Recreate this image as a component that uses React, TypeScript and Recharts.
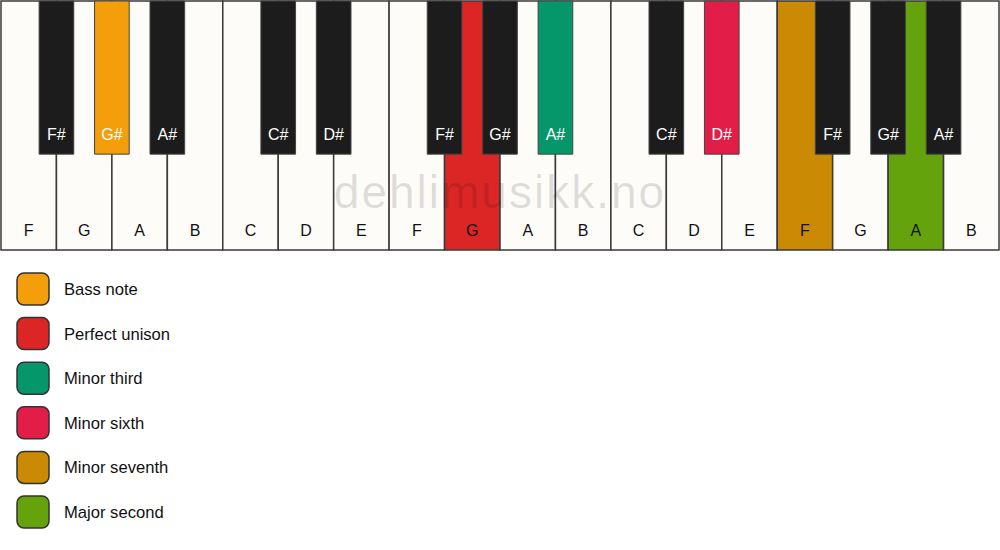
import React from "react";
import { ComposedChart, XAxis, YAxis, ReferenceArea, Line } from "recharts";

const WHITE_NOTES = ["F", "G", "A", "B", "C", "D", "E", "F", "G", "A", "B", "C", "D", "E", "F", "G", "A", "B"];
const BLACK_NOTES = ["F#", "G#", "A#", "C#", "D#", "F#", "G#", "A#", "C#", "D#", "F#", "G#", "A#"];
// boundary (in white-key units) each black key sits on
const BLACK_POSITIONS = [1, 2, 3, 5, 6, 8, 9, 10, 12, 13, 15, 16, 17];

const INTERVALS = ["Bass note", "Perfect unison", "Minor third", "Minor sixth", "Minor seventh", "Major second"];
const INTERVAL_COLORS = ["#F59E0B", "#DC2626", "#059669", "#E11D48", "#CA8A04", "#65A30D"];

// key index -> interval index
const WHITE_HIGHLIGHTS: Record<number, number> = { 8: 1, 14: 4, 16: 5 };
const BLACK_HIGHLIGHTS: Record<number, number> = { 1: 0, 7: 2, 9: 3 };

const BLACK_HALF_WIDTH = 0.3125;
const BLACK_BOTTOM = 0.385;

const FONT = "'Liberation Sans', Arial, sans-serif";
const WHITE_FILL = "#FDFCF9";
const BLACK_FILL = "#1C1C1C";

const data = WHITE_NOTES.map((note, i) => ({ x: i + 0.5, top: 1, note }));

function Watermark(props: any) {
  const { viewBox } = props;
  return (
    <text
      x={viewBox.x + viewBox.width / 2}
      y={208}
      textAnchor="middle"
      fontFamily={FONT}
      fontSize={46}
      letterSpacing={2}
      fill="#000"
      fillOpacity={0.12}
    >
      dehlimusikk.no
    </text>
  );
}

export default function App() {
  return (
    <div style={{ position: "absolute", left: 0, top: 0, width: 1000, height: 550, background: "#fff", fontFamily: FONT }}>
      <ComposedChart width={1000} height={251} data={data} margin={{ top: 1, right: 1, bottom: 1, left: 1 }}>
        <XAxis type="number" dataKey="x" domain={[0, 18]} hide allowDataOverflow />
        <YAxis type="number" domain={[0, 1]} hide allowDataOverflow />
        <Line dataKey="top" stroke="none" dot={false} isAnimationActive={false} />
        {WHITE_NOTES.map((note, i) => {
          const hl = WHITE_HIGHLIGHTS[i];
          return (
            <ReferenceArea
              key={`w${i}`}
              x1={i}
              x2={i + 1}
              y1={0}
              y2={1}
              fill={hl !== undefined ? INTERVAL_COLORS[hl] : WHITE_FILL}
              fillOpacity={1}
              stroke="#3a3a3a"
              strokeWidth={1.5}
              label={{
                value: note,
                position: "insideBottom",
                offset: 14,
                fill: "#111",
                fontSize: 16,
                fontFamily: FONT,
              }}
            />
          );
        })}
        {BLACK_NOTES.map((note, i) => {
          const hl = BLACK_HIGHLIGHTS[i];
          const pos = BLACK_POSITIONS[i];
          return (
            <ReferenceArea
              key={`b${i}`}
              x1={pos - BLACK_HALF_WIDTH}
              x2={pos + BLACK_HALF_WIDTH}
              y1={BLACK_BOTTOM}
              y2={1}
              fill={hl !== undefined ? INTERVAL_COLORS[hl] : BLACK_FILL}
              fillOpacity={1}
              stroke="#444"
              strokeWidth={1}
              label={{
                value: note,
                position: "insideBottom",
                offset: 14,
                fill: "#fff",
                fontSize: 16,
                fontFamily: FONT,
              }}
            />
          );
        })}
        <ReferenceArea x1={0} x2={18} y1={0} y2={1} fillOpacity={0} strokeOpacity={0} label={<Watermark />} />
      </ComposedChart>
      <svg width={1000} height={299} style={{ position: "absolute", left: 0, top: 251 }}>
        {INTERVALS.map((name, i) => {
          const cy = 289 - 251 + i * 44.6;
          return (
            <g key={name}>
              <rect x={17} y={cy - 16} width={32} height={32} rx={7} ry={7} fill={INTERVAL_COLORS[i]} stroke="#333" strokeWidth={1.5} />
              <text x={64} y={cy + 6} fontFamily={FONT} fontSize={16.6} fill="#111">
                {name}
              </text>
            </g>
          );
        })}
      </svg>
    </div>
  );
}
